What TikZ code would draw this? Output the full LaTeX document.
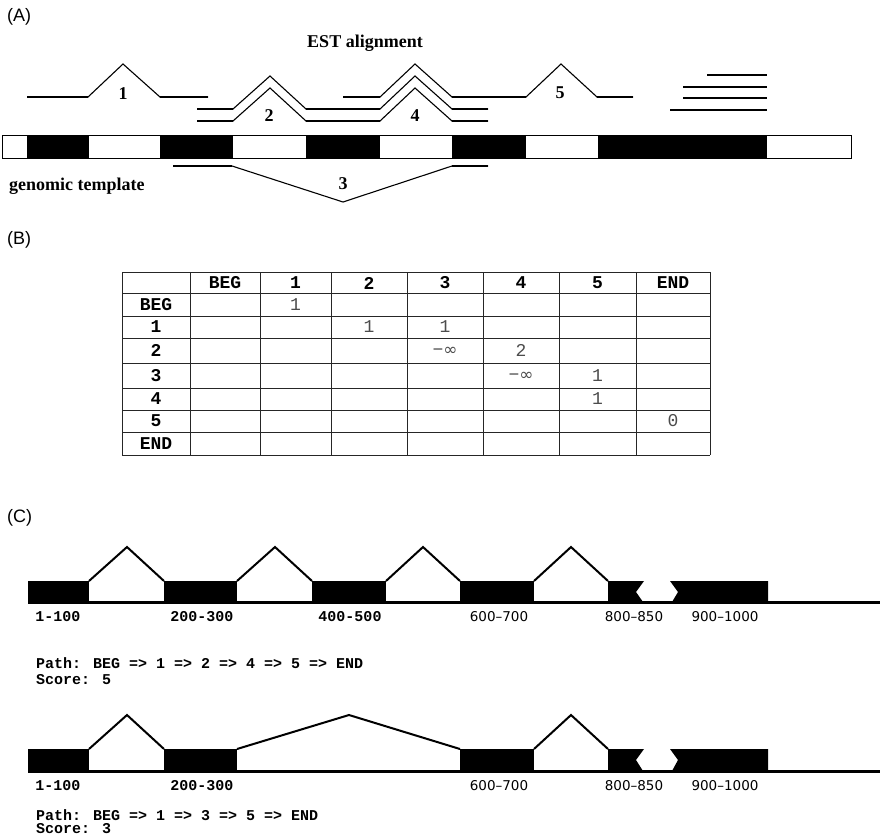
\documentclass[tikz,border=0pt]{standalone}
\usepackage{fontspec}
\setmainfont{Liberation Serif}
\newfontfamily\lsans{Liberation Sans}
\newfontfamily\lmono{Liberation Mono}
\newfontfamily\dsans{DejaVu Sans}
\tikzset{
  panel/.style={font=\lsans\fontsize{18}{20}\selectfont, anchor=west, inner sep=0pt},
  serifb/.style={font=\bfseries\fontsize{18}{20}\selectfont, inner sep=0pt},
  estnum/.style={font=\bfseries\fontsize{18}{20}\selectfont, inner sep=0pt},
  est/.style={line width=1.1pt, line join=miter},
  esth/.style={line width=2.2pt},
  gbar/.style={draw=black, line width=1pt, fill=white},
  exon/.style={fill=black},
  tline/.style={line width=0.8pt, draw=black!85},
  hdr/.style={font=\lmono\bfseries\fontsize{18}{20}\selectfont, inner sep=0pt},
  val/.style={font=\lmono\fontsize{18}{20}\selectfont, text=black!70, inner sep=0pt},
  intron/.style={line width=2pt, line join=miter},
  baseln/.style={line width=3pt},
  cpos/.style={font=\lmono\bfseries\fontsize{15}{17}\selectfont, inner sep=0pt},
  spos/.style={font=\dsans\fontsize{13.5}{15}\selectfont, inner sep=0pt},
  pathtxt/.style={font=\lmono\bfseries\fontsize{15}{17}\selectfont, anchor=west, inner sep=0pt}
}
\newcommand{\myinf}{−{\dsans\fontsize{17}{19}\selectfont ∞}}
\begin{document}
\begin{tikzpicture}[x=1pt,y={(0pt,-1pt)}]
\useasboundingbox (0,0) rectangle (880,838);
\fill[white] (0,0) rectangle (880,838);

% ---------------- Panel A ----------------
\node[panel] (labA) at (7,17) {(A)};
\node[serifb] (estal) at (365,43) {EST alignment};

% EST 1
\draw[est] (27,97) -- (88,97) -- (123,64) -- (160,97) -- (208,97);
\draw[esth] (27,97) -- (88,97) (160,97) -- (208,97);
\node[estnum] (n1) at (123,94) {1};
% top line (4 and 5)
\draw[est] (343,97) -- (380,97) -- (415,64) -- (452,97) -- (526,97) -- (561,64) -- (597,97) -- (633,97);
\draw[esth] (343,97) -- (380,97) (452,97) -- (526,97) (597,97) -- (633,97);
% middle line
\draw[est] (197,109) -- (233,109) -- (270,76) -- (306,109) -- (380,109) -- (415,76) -- (452,109) -- (488,109);
\draw[esth] (197,109) -- (233,109) (306,109) -- (380,109) (452,109) -- (488,109);
% bottom line
\draw[est] (197,121) -- (233,121) -- (270,88) -- (306,121) -- (380,121) -- (415,88) -- (452,121) -- (488,121);
\draw[esth] (197,121) -- (233,121) (306,121) -- (380,121) (452,121) -- (488,121);
\node[estnum] (n2) at (269,116) {2};
\node[estnum] (n4) at (415,116) {4};
\node[estnum] (n5) at (560,93) {5};
% EST 3 (below)
\draw[est] (173,166) -- (232,166) -- (343,202) -- (452,166) -- (488,166);
\draw[esth] (173,166) -- (232,166) (452,166) -- (488,166);
\node[estnum] (n3) at (343,184) {3};
% stacked lines at right
\draw[esth] (707,75) -- (767,75);
\draw[esth] (683,87) -- (767,87);
\draw[esth] (683,98) -- (767,98);
\draw[esth] (670,110) -- (767,110);

% genomic template bar
\draw[gbar] (2,135) rectangle (851,158);
\fill[exon] (27,135) rectangle (89,158);
\fill[exon] (160,135) rectangle (233,158);
\fill[exon] (306,135) rectangle (380,158);
\fill[exon] (452,135) rectangle (526,158);
\fill[exon] (598,135) rectangle (767,158);
\draw[line width=1pt] (2,135) rectangle (851,158);
\node[serifb, anchor=west] (gtemp) at (9,186) {genomic template};

% ---------------- Panel B ----------------
\node[panel] (labB) at (7,240) {(B)};
\foreach \x in {122,190,260,331,407,483,559,636,710}
  \draw[tline] (\x,272) -- (\x,455);
\foreach \y in {272,293,316,338,363,388,410,432,455}
  \draw[tline] (122,\y) -- (710,\y);
\foreach \t/\x [count=\i] in {BEG/225,1/295.5,2/369,3/445,4/521,5/597.5,END/673}
  \node[hdr] (col\i) at (\x,283) {\t};
\foreach \t/\y [count=\i] in {BEG/304.5,1/327,2/350.5,3/375.5,4/399,5/421,END/443.5}
  \node[hdr] (row\i) at (156,\y) {\t};
\node[val] (v01) at (295.5,304.5) {1};
\node[val] (v12) at (369,327) {1};
\node[val] (v13) at (445,327) {1};
\node[val] (v23) at (445,351) {\myinf};
\node[val] (v24) at (521,350.5) {2};
\node[val] (v34) at (521,376) {\myinf};
\node[val] (v35) at (597.5,375.5) {1};
\node[val] (v45) at (597.5,399) {1};
\node[val] (v5e) at (673,421) {0};

% ---------------- Panel C ----------------
\node[panel] (labC) at (7,518) {(C)};
% first gene model
\draw[baseln] (28,602) -- (880,602);
\fill[exon] (28,581) rectangle (89,602);
\fill[exon] (164,581) rectangle (237,602);
\fill[exon] (312,581) rectangle (386,602);
\fill[exon] (460,581) rectangle (534,602);
\fill[exon] (608,581) -- (644,581) -- (636,592) -- (643,602) -- (608,602) -- cycle;
\fill[exon] (670,581) -- (768,581) -- (768,602) -- (672,602) -- (678,592) -- cycle;
\draw[intron] (89,581) -- (127,547) -- (164,581);
\draw[intron] (237,581) -- (275,547) -- (312,581);
\draw[intron] (386,581) -- (423,547) -- (460,581);
\draw[intron] (534,581) -- (571,547) -- (608,581);
\node[cpos] (a1) at (58,617) {1-100};
\node[cpos] (a2) at (202,617) {200-300};
\node[cpos] (a3) at (350,617) {400-500};
\node[spos] (a4) at (499,617) {600–700};
\node[spos] (a5) at (634,617) {800–850};
\node[spos] (a6) at (725,617) {900–1000};
\node[pathtxt] (p1) at (36,663) {Path: BEG => 1 => 2 => 4 => 5 => END};
\node[pathtxt] (s1) at (36,680) {Score: 5};

% second gene model
\draw[baseln] (28,771) -- (880,771);
\fill[exon] (28,749) rectangle (89,771);
\fill[exon] (164,749) rectangle (237,771);
\fill[exon] (460,749) rectangle (534,771);
\fill[exon] (608,749) -- (644,749) -- (636,760) -- (643,771) -- (608,771) -- cycle;
\fill[exon] (670,749) -- (768,749) -- (768,771) -- (672,771) -- (678,760) -- cycle;
\draw[intron] (89,749) -- (127,715) -- (164,749);
\draw[intron] (237,749) -- (349,715) -- (460,749);
\draw[intron] (534,749) -- (571,715) -- (608,749);
\node[cpos] (b1) at (58,786) {1-100};
\node[cpos] (b2) at (202,786) {200-300};
\node[spos] (b4) at (499,786) {600–700};
\node[spos] (b5) at (634,786) {800–850};
\node[spos] (b6) at (725,786) {900–1000};
\node[pathtxt] (p2) at (36,815) {Path: BEG => 1 => 3 => 5 => END};
\node[pathtxt] (s2) at (36,829) {Score: 3};
\end{tikzpicture}
\end{document}
